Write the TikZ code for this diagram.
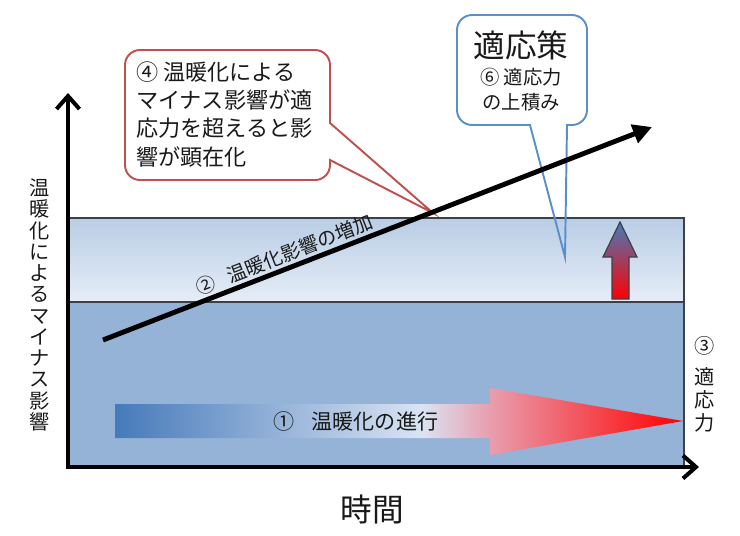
\documentclass[tikz,border=0pt]{standalone}
\usepackage{fontspec}
\setmainfont{Noto Sans CJK JP}
\newcommand*{\jpsize}[1]{\fontsize{#1}{1.2\dimexpr#1\relax}\selectfont}
\definecolor{lowband}{RGB}{149,179,215}
\definecolor{bandtop}{RGB}{185,205,229}
\definecolor{bandbot}{RGB}{230,237,247}
\definecolor{frame}{RGB}{60,64,72}
\definecolor{warmred}{RGB}{192,80,77}
\definecolor{adaptblue}{RGB}{91,143,201}
\definecolor{flowblue}{RGB}{70,122,186}
\definecolor{flowlight}{RGB}{218,228,243}
\definecolor{flowpink}{RGB}{232,158,174}
\definecolor{flowred}{RGB}{255,0,0}
\pgfdeclarehorizontalshading{warming}{100bp}{color(0bp)=(flowblue); color(25bp)=(flowblue); color(52bp)=(flowlight); color(58bp)=(flowpink); color(75bp)=(flowred); color(100bp)=(flowred)}
\usetikzlibrary{arrows.meta}
\usetikzlibrary{positioning}
\tikzstyle{base}=[inner sep=0pt, outer sep=0pt, x=0.02cm, y=-0.02cm]
\tikzstyle{band}=[draw=frame, line width=0.7pt]
\tikzstyle{bubble}=[line width=1.1pt, rounded corners=0.3cm]
\tikzstyle{axis}=[line width=2.3pt, {Straight Barb[length=2.6mm,width=4.6mm]}-{Straight Barb[length=2.6mm,width=4.6mm]}]
\tikzstyle{label}=[text=black!90, align=center]

\begin{document}
\begin{tikzpicture}[base]
    \useasboundingbox (0,0) rectangle (740,535);
    % bands
    \fill [lowband] (68,302) rectangle (684,467);
    \shade [top color=bandtop, bottom color=bandbot] (68,218) rectangle (684,302);
    \draw [band] (68,218) rectangle (684,467);
    \draw [band] (68,302) -- (684,302);
    % axes
    \coordinate (origin) at (68,467);
    \coordinate (ytop) at (68,93);
    \coordinate (xend) at (699,467);
    \draw [axis] (ytop) -- (origin) -- (xend);
    \node [label, font=\jpsize{18pt}] (time) at (372,509) {時間};
    \node [label, font={\fontsize{11.5pt}{12.1pt}\selectfont}] (harm)  at (40,305)
        {温\\暖\\化\\に\\よ\\る\\マ\\イ\\ナ\\ス\\影\\響};
    \node [label, font=\jpsize{11.5pt}] (num3) at (705,346) {③};
    \node [label, below=7pt of num3, font={\fontsize{11.5pt}{13pt}\selectfont}] (capacity) {適\\応\\力};
    % callouts
    \coordinate (redtip) at (433,213);
    \coordinate (bluetip) at (565,257);
    \draw [bubble, warmred] (330,123) -- (330,50) -- (125,50) -- (125,180) -- (330,180)
        [sharp corners] -- (330,160) -- (redtip) -- cycle;
    \draw [bubble, adaptblue] (530,125) -- (457,125) -- (457,15) -- (587,15) -- (587,125)
        [sharp corners] -- (567,125) -- (bluetip) -- cycle;
    \node [label, align=left, anchor=north west, font={\fontsize{12.6pt}{16pt}\selectfont}] (exceed) at (136,62)
        {④ 温暖化による\\マイナス影響が適\\応力を超えると影\\響が顕在化};
    \node [label, font=\jpsize{18pt}] (measure) at (521,45) {適応策};
    \node [label, below=5pt of measure, font={\fontsize{11pt}{14pt}\selectfont}] (stack) {⑥ 適応力\\の上積み};
    % rising impact
    \coordinate (riseA) at (103,340);
    \coordinate (riseB) at (652,127);
    \draw [line width=2.8pt, -{Triangle[length=3.8mm,width=3.8mm]}] (riseA) -- (riseB)
        node [label, pos=0.34, sloped, above=3pt, font=\jpsize{11pt}] (impact) {②\hspace{0.7em}温暖化影響の増加};
    % warming progress
    \shade [shading=warming] (115,404) -- (490,404) -- (490,388) -- (683,421) -- (490,455) -- (490,438) -- (115,438) -- cycle;
    \node [label, font=\jpsize{12pt}] (progress) at (356,421) {①\hspace{0.8em}温暖化の進行};
    % adaptation rise
    \shade [top color=flowblue, bottom color=flowred, draw=frame, line width=0.7pt]
        (603,257) -- (620,222) -- (637,257) -- (629,257) -- (629,299) -- (612,299) -- (612,257) -- cycle;
\end{tikzpicture}
\end{document}
